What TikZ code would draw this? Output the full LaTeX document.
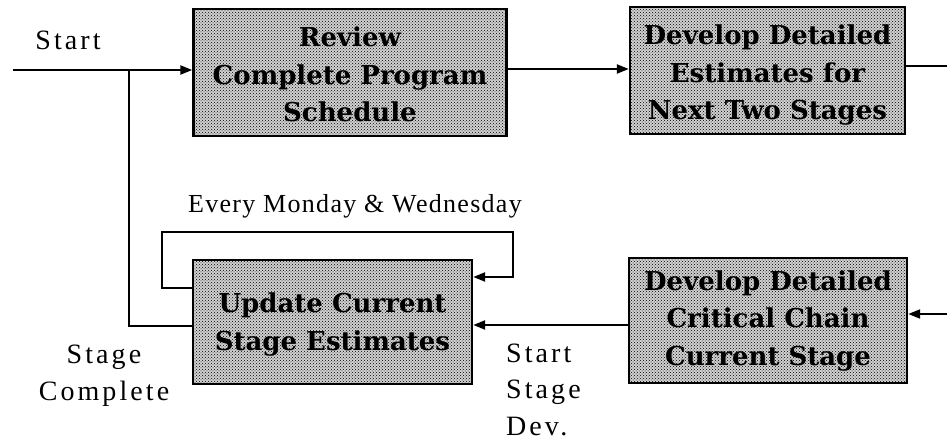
\documentclass[tikz,border=0pt]{standalone}
\usepackage{fontspec}
\setmainfont{Liberation Serif}
\newfontfamily\boxfont{DejaVu Serif}[BoldFont={DejaVu Serif Bold}]
\usetikzlibrary{arrows.meta,patterns}
\tikzset{
  stagebox/.style={draw, line width=2.4pt, inner sep=0pt,
    preaction={fill=black!18}, pattern=crosshatch dots, pattern color=black},
  boxtext/.style={inner sep=0pt, anchor=base, align=center,
    font=\boxfont\bfseries\fontsize{26}{37.5}\selectfont},
  link/.style={line width=2.2pt},
  arr/.style={link, -{Triangle[length=12pt,width=9pt]}},
  lbl/.style={inner sep=0pt, anchor=base,
    font=\fontsize{28}{36.5}\selectfont\addfontfeature{LetterSpace=11}},
}
\begin{document}
\begin{tikzpicture}[x=1pt,y=-1pt]
\useasboundingbox (0,0) rectangle (947,443);

% process boxes
\node[stagebox, minimum width=313pt, minimum height=127pt] (review) at (350,72.5) {};
\node[stagebox, minimum width=275pt, minimum height=127pt] (next) at (767.5,70.5) {};
\node[stagebox, minimum width=279pt, minimum height=124pt] (update) at (332.5,322) {};
\node[stagebox, minimum width=278pt, minimum height=125pt] (critical) at (768,320.5) {};

% box captions (anchored at the baseline of their last line)
\node[boxtext] (reviewtxt) at (review.center |- 0,122)
  {Review\\Complete Program\\Schedule};
\node[boxtext] (nexttxt) at (next.center |- 0,120)
  {Develop Detailed\\Estimates for\\Next Two Stages};
\node[boxtext] (updatetxt) at (update.center |- 0,350)
  {Update Current\\Stage Estimates};
\node[boxtext] (criticaltxt) at (critical.center |- 0,365)
  {Develop Detailed\\Critical Chain\\Current Stage};

% free ends and bends
\coordinate (in) at (13,70);
\coordinate (split) at (129,70);
\coordinate (outtop) at (947,66);
\coordinate (inbot) at (947,314);
\coordinate (loopL) at (162,232);
\coordinate (loopR) at (513,232);

% main flow
\draw[arr] (in) -- (in -| review.west);
\draw[link] (split) |- (update.west |- 0,326);
\draw[arr] (review.east |- 0,69) -- (next.west |- 0,69);
\draw[link] (next.east |- outtop) -- (outtop);
\draw[arr] (inbot) -- (critical.east |- inbot);
\draw[arr] (critical.west |- 0,325) -- (update.east |- 0,325);

% recurring update loop
\draw[arr] (update.west |- 0,288) -| (loopL) -- (loopR) |- (update.east |- 0,277);

% labels
\node[lbl] (lstart) at (68,50) {Start};
\node[lbl, font=\fontsize{26}{30}\selectfont\addfontfeature{LetterSpace=5}] (lweek) at (355,213)
  {Every Monday \& Wednesday};
\node[lbl, align=center] (ldone) at (104,400) {Stage\\Complete};
\node[lbl, anchor=base west, align=left] (lnext) at (506,435) {Start\\Stage\\Dev.};
\end{tikzpicture}
\end{document}
